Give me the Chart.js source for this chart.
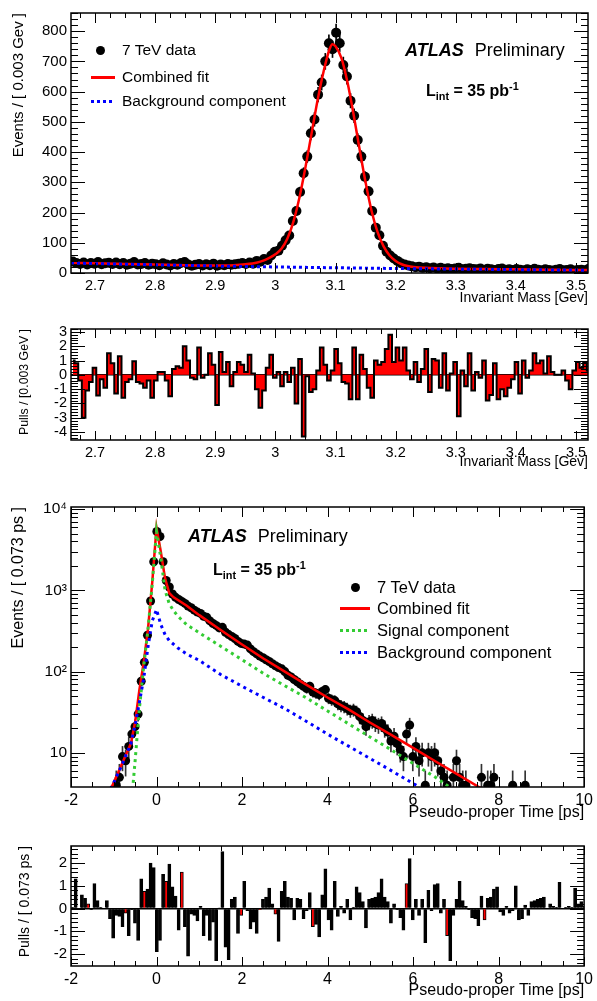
<!DOCTYPE html>
<html>
<head>
<meta charset="utf-8">
<title>ATLAS J/psi mass and pseudo-proper time fits</title>
<script src="https://cdn.jsdelivr.net/npm/chart.js@4.4.1/dist/chart.umd.min.js"></script>
<style>
  body { margin: 0; width: 597px; height: 1001px; position: relative; background: #fff; overflow: hidden;
         font-family: 'Liberation Sans', Arial, Helvetica, sans-serif; color: #000; }
  .pane { position: absolute; left: 0; }
  .txt { position: absolute; white-space: nowrap; line-height: 1; transform: translateY(-50%); }
  .dot { position: absolute; width: 9px; height: 9px; border-radius: 50%; background: #000; }
  .solid { position: absolute; height: 3px; background: #ff0000; }
  .dash { position: absolute; height: 3px; }
  .blue { background: repeating-linear-gradient(90deg, #0000ff 0 3px, transparent 3px 6px); }
  .green { background: repeating-linear-gradient(90deg, #33cc33 0 3px, transparent 3px 6px); }
  sub, sup { font-size: 0.68em; line-height: 0; }
  .atlas { font-weight: bold; font-style: italic; margin-right: 6px; }
</style>
</head>
<body>
<div class="pane" style="top:0"><canvas id="massChart" width="597" height="310"></canvas></div>
<div class="pane" style="top:310px"><canvas id="massPullChart" width="597" height="165"></canvas></div>
<div class="pane" style="top:490px"><canvas id="timeChart" width="597" height="334"></canvas></div>
<div class="pane" style="top:830px"><canvas id="timePullChart" width="597" height="171"></canvas></div>

<!-- top panel legend and labels -->
<div class="dot" style="left:95.5px;top:45.5px"></div>
<div class="txt" style="left:122px;top:50px;font-size:15.5px">7 TeV data</div>
<div class="solid" style="left:91px;top:75.5px;width:24px"></div>
<div class="txt" style="left:122px;top:77px;font-size:15.5px">Combined fit</div>
<div class="dash blue" style="left:91px;top:99.5px;width:24px"></div>
<div class="txt" style="left:122px;top:101px;font-size:15.5px">Background component</div>
<div class="txt" style="left:405px;top:50px;font-size:18px"><span class="atlas">ATLAS</span> Preliminary</div>
<div class="txt" style="left:426px;top:91px;font-size:16px;font-weight:bold">L<sub>int</sub> = 35 pb<sup>-1</sup></div>

<!-- lifetime panel legend and labels -->
<div class="txt" style="left:188px;top:536px;font-size:18px"><span class="atlas">ATLAS</span> Preliminary</div>
<div class="txt" style="left:213px;top:570px;font-size:16px;font-weight:bold">L<sub>int</sub> = 35 pb<sup>-1</sup></div>
<div class="dot" style="left:350.5px;top:582.5px"></div>
<div class="txt" style="left:377px;top:587px;font-size:16.5px">7 TeV data</div>
<div class="solid" style="left:340px;top:606.5px;width:30px"></div>
<div class="txt" style="left:377px;top:608px;font-size:16.5px">Combined fit</div>
<div class="dash green" style="left:340px;top:628.5px;width:30px"></div>
<div class="txt" style="left:377px;top:630px;font-size:16.5px">Signal component</div>
<div class="dash blue" style="left:340px;top:650.5px;width:30px"></div>
<div class="txt" style="left:377px;top:652px;font-size:16.5px">Background component</div>

<script>
// ---------- invariant mass ----------
const massBinStart = 2.663;
const massBinWidth = 0.006;
const massCounts = [
  38, 33, 30, 35, 28, 33, 31, 36, 29, 32, 34,
  30, 35, 29, 33, 27, 31, 36, 28, 30, 33,
  27, 31, 29, 26, 32, 28, 25, 30, 27, 33,
  36, 28, 24, 27, 30, 25, 29, 26, 31, 24,
  28, 26, 30, 27, 29, 31, 33,
  30, 35, 31, 40, 37, 46, 43, 58,
  70, 74, 90, 108, 124, 172, 205, 268, 330, 385, 462, 508, 590, 630, 700, 760, 740,
  795, 760, 688, 650, 570, 520, 440, 385, 318, 270, 205, 150, 125, 90, 70, 58, 48, 40, 32, 28, 25, 22,
  19, 21, 17, 19, 16, 18, 15, 17, 14, 16, 13, 15, 17, 12, 14, 16, 13, 12, 15, 11,
  14, 12, 10, 13, 15, 11, 12, 10, 13, 11, 9, 12, 10, 14, 11, 9, 12, 10, 8, 11,
  13, 9, 10, 12, 8, 10, 11, 9, 14
];
const massFitX = [2.66, 2.70, 2.75, 2.80, 2.85, 2.90, 2.93, 2.95, 2.97, 2.98, 2.99, 3.00, 3.01, 3.02, 3.03,
  3.04, 3.05, 3.06, 3.07, 3.08, 3.09, 3.095, 3.10, 3.11, 3.12, 3.13, 3.14, 3.15, 3.16, 3.17, 3.18, 3.19,
  3.20, 3.21, 3.22, 3.23, 3.25, 3.30, 3.35, 3.40, 3.45, 3.50, 3.52];
const massFitY = [34, 32, 30, 28, 26, 25, 26, 29, 35, 41, 50, 62, 80, 114, 170,
  250, 350, 460, 570, 665, 740, 757, 750, 710, 630, 525, 410, 300, 205, 135, 88, 58,
  40, 29, 23, 20, 17, 14, 13, 12, 11, 10, 10];
const massBkgX = [2.66, 2.70, 2.80, 2.90, 3.00, 3.10, 3.20, 3.30, 3.40, 3.50, 3.52];
const massBkgY = [33, 31, 27, 23, 20, 17.3, 14.9, 12.9, 11.1, 9.6, 9.3];
const massPulls = [
  1.0, 0.8, -0.4, -3.0, -1.1, -0.5, 0.5, -1.45, -0.3, -0.9,
  1.5, 0.8, -1.3, 1.3, -1.6, -0.5, -0.3, 0.95, -0.5, -0.6,
  -0.9, -0.4, -1.6, -0.4, 0.2, 0.2, -0.4, -1.5, 0.4, 0.6,
  0.5, 2.0, 1.0, -0.2, -0.3, 1.9, -0.2, 0.0, 1.5, 0.7,
  -2.1, 1.6, 0.2, 0.9, -0.8, 0.2, 0.9, 0.7, 0.2, 1.4,
  0.1, -1.0, -2.3, -1.1, 0.5, 1.4, -0.2, 0.2, -0.8, 0.2,
  -0.5, 0.5, -2.0, 1.1, -4.3, -0.1, -1.2, -1.0, 0.3, 1.9,
  0.7, -0.4, 0.3, 1.8, 0.8, -0.5, -0.6, -1.7, 1.9, -1.7,
  1.4, 0.4, -0.9, -1.6, 1.0, 0.7, 0.9, 1.8, 2.8, 0.9,
  1.9, 1.0, 1.9, 0.3, -0.3, 0.9, -0.5, 0.4, 1.8, -1.2,
  1.1, 1.0, -0.9, 1.5, -1.1, 0.1, 0.9, -2.9, 0.3, -0.8,
  1.5, -1.1, 0.2, -0.2, 1.0, -1.8, -1.4, 0.8, -1.7, -1.0,
  -1.5, -0.9, -0.3, 0.9, -1.3, 1.0, -0.2, 0.3, 1.5, 0.8,
  1.0, 0.1, 1.3, 0.2, 0.0, 0.0, 0.3, -0.4, -1.0, 0.3,
  0.9, 0.5, 0.9, 0.3
];

// ---------- pseudo-proper time ----------
const timeCountStart = -0.9415;
const timeBinWidth = 0.073;
const timeCounts = [
  4, 5, 9, 8, 12, 17, 21, 30, 76, 130, 280, 740, 2250, 5300, 4600, 2250, 1320, 1100, 900, 820,
  770, 730, 690, 640, 610, 570, 540, 520, 480, 465, 420, 390, 370, 345, 350, 305, 285, 270, 255, 235,
  222, 218, 212, 190, 176, 165, 155, 148, 140, 133, 125, 118, 112, 108, 100, 90, 86, 80, 75, 70,
  66, 62, 66, 56, 54, 52, 57, 60, 47, 45, 44, 40, 38, 37, 35, 33, 34, 32, 28, 25,
  21, 24, 25, 23, 22, 23, 20, 18, 14, 16, 13, 11, 9, 17, 22, 9, 12, 8, 10, 4,
  10, 9, 10, 8, 6, 5, 4, null, 5, 8, 5, 4, 4, null, null, null, null, 5, null, 4,
  4, 5, null, null, null, null, null, 4, null, null, null, 4
];
const timeFitX = [-1.1, -1.0, -0.8, -0.6, -0.5, -0.4, -0.3, -0.2, -0.1, 0.0, 0.1, 0.2, 0.3, 0.4, 0.5,
  0.7, 1.0, 1.5, 2.0, 2.5, 3.0, 3.5, 4.0, 4.5, 5.0, 5.5, 6.0, 6.5, 7.0, 7.5, 7.7];
const timeFitY = [3.3, 4.3, 7.5, 13, 24, 60, 130, 330, 1250, 5900, 3000, 1400, 920, 820, 760,
  650, 495, 325, 215, 145, 100, 69, 48, 34, 23.5, 16.5, 11.5, 8.0, 5.6, 3.9, 3.4];
const timeSigX = [-0.56, -0.5, -0.45, -0.4, -0.3, -0.2, -0.1, 0.0, 0.1, 0.2, 0.3, 0.4, 0.5, 0.7, 1.0,
  1.5, 2.0, 2.5, 3.0, 3.5, 4.0, 4.5, 5.0, 5.5, 6.0, 6.5, 6.85];
const timeSigY = [3.5, 8, 17, 35, 115, 330, 1200, 5300, 2500, 1000, 680, 560, 480, 380, 300,
  205, 140, 95, 67, 47.6, 32.8, 22.6, 15.6, 10.8, 7.4, 5.1, 3.8];
const timeBkgX = [-1.08, -1.0, -0.8, -0.6, -0.5, -0.4, -0.3, -0.2, -0.1, 0.0, 0.1, 0.2, 0.3, 0.5, 0.7,
  1.0, 1.5, 2.0, 2.5, 3.0, 3.5, 4.0, 4.5, 5.0, 5.5, 6.0, 6.15];
const timeBkgY = [3.6, 4.3, 7.3, 13, 22, 42, 82, 200, 420, 580, 380, 285, 240, 195, 165,
  137, 92, 66, 48, 35, 24.5, 17, 12, 8.5, 6.0, 4.2, 3.8];
const timePullStart = -1.9635;
const timePulls = [
  0.05, 1.3, 0.0, 0.6, 0.45, 0.2, -0.05, 1.1, 0.35, 0.05,
  0.0, 0.35, -0.45, -1.3, -0.3, -0.35, -0.8, -0.2, -1.2, -0.05,
  -0.65, -1.4, 1.3, 0.75, 0.85, 2.0, 1.8, -1.9, -1.4, 1.5,
  1.2, 1.95, 0.95, 0.55, -0.95, 1.6, -0.8, -2.1, -0.25, -0.3,
  -0.55, 0.1, -1.2, -0.3, -1.4, -0.6, -2.3, 0.02, 2.5, -1.7,
  -2.25, 0.4, 0.5, -1.1, -0.3, 1.2, -0.1, -0.9, -0.6, -1.1,
  -0.05, 0.4, 0.5, 0.9, 0.2, -0.25, -1.45, 0.75, 1.2, 0.5,
  0.45, -0.5, 0.45, 0.4, -0.45, -0.1, 0.7, -0.8, -0.7, -1.25,
  0.6, 1.75, -0.5, -0.95, 1.2, -0.35, 0.1, -0.2, 0.4, -0.5,
  0.05, 0.95, 0.7, 0.3, -0.85, 0.4, 0.45, 0.5, 0.7, 1.3,
  0.5, 0.3, -0.65, 0.2, -0.05, -0.4, -0.95, 1.1, 2.2, -0.5,
  0.4, -0.3, 0.4, -1.5, 0.8, -0.1, 1.05, 1.1, -0.2, 0.4,
  -1.2, -2.3, -0.3, 0.4, 1.2, 0.35, 0.1, -0.05, -0.4, -0.45,
  -0.75, 0.55, -0.5, 0.45, 0.5, 0.85, 0.95, -0.15, -0.3, 0.1,
  -0.2, -0.1, 1.0, -0.5, -0.45, 0.15, -0.3, 0.3, 0.35, 0.4,
  0.45, 0.5, 0.0, 0.2, 0.1, 0.05, 1.15, 0.0, 0.05, 0.1,
  0.05, 0.9, 0.2, 0.3, 0.1
];
const timePullRedBins = [5, 17, 23, 30, 35, 54, 60, 65, 77, 107, 120, 132];

Chart.defaults.font.family = "'Liberation Sans', Arial, Helvetica, sans-serif";
Chart.defaults.color = '#000';

const binned = (start, w, vals) => vals.map((v, i) => ({ x: start + i * w, y: v }));
const xy = (xs, ys) => xs.map((x, i) => ({ x, y: ys[i] }));
// Poisson error bars drawn as thin floating bars
const errBars = (start, w, vals) => vals
  .map((v, i) => v == null ? null : { x: start + i * w, y: [v - Math.sqrt(v), v + Math.sqrt(v)] })
  .filter(Boolean);

function tickMarks(scale, sub) {
  const major = scale.ticks.map(t => t.value);
  if (scale.type === 'logarithmic') {
    return major.filter(v => v >= scale.min && v <= scale.max).map(v => {
      const e = Math.floor(Math.log10(v) + 1e-9);
      const s = v / Math.pow(10, e);
      return { v, major: Math.abs(s - 1) < 1e-6, ok: Math.abs(s - Math.round(s)) < 1e-6 };
    }).filter(t => t.ok);
  }
  const step = (major[1] - major[0]) / sub;
  const out = [];
  let k = Math.ceil((scale.min - major[0]) / step - 1e-9);
  let v = major[0] + k * step;
  while (v <= scale.max + 1e-9) {
    out.push({ v, major: ((k % sub) + sub) % sub === 0 });
    k++;
    v = major[0] + k * step;
  }
  return out;
}

// ROOT style frame with inward ticks on all four sides
const rootFrame = {
  id: 'rootFrame',
  afterDatasetsDraw(chart, args, o) {
    const { ctx, chartArea: a } = chart;
    const xs = chart.scales.x, ys = chart.scales.y;
    ctx.save();
    ctx.strokeStyle = '#000';
    ctx.lineWidth = 1;
    ctx.beginPath();
    tickMarks(xs, o.xSub).forEach(t => {
      const px = Math.round(xs.getPixelForValue(t.v)) + 0.5;
      const len = t.major ? o.xMajor : o.xMinor;
      ctx.moveTo(px, a.bottom); ctx.lineTo(px, a.bottom - len);
      ctx.moveTo(px, a.top); ctx.lineTo(px, a.top + len);
    });
    tickMarks(ys, o.ySub).forEach(t => {
      const py = Math.round(ys.getPixelForValue(t.v)) + 0.5;
      const len = t.major ? o.yMajor : o.yMinor;
      ctx.moveTo(a.left, py); ctx.lineTo(a.left + len, py);
      ctx.moveTo(a.right, py); ctx.lineTo(a.right - len, py);
    });
    ctx.stroke();
    ctx.lineWidth = 1.5;
    ctx.strokeRect(a.left, a.top, a.right - a.left, a.bottom - a.top);
    ctx.restore();
  }
};

const plainNumber = v => String(+Number(v).toFixed(3));

function xAxis(min, max, step, title, titleSize, boxH, size, titlePad) {
  return {
    type: 'linear', min, max, offset: false,
    ticks: { stepSize: step, includeBounds: false, autoSkip: false, maxRotation: 0, padding: 4,
             font: { size }, callback: plainNumber },
    grid: { display: false, drawTicks: false }, border: { display: false },
    title: { display: true, text: title, align: 'end', font: { size: titleSize }, padding: { top: 0, bottom: titlePad } },
    afterFit: s => { s.height = boxH; }
  };
}

function yAxis(extra, title, titleSize, titlePad, zeroLine) {
  return Object.assign({
    grid: zeroLine
      ? { drawTicks: false, lineWidth: 1.5, color: c => (c.tick && c.tick.value === 0 ? '#000' : 'rgba(0,0,0,0)') }
      : { display: false, drawTicks: false },
    border: { display: false },
    title: { display: true, text: title, align: 'end', font: { size: titleSize }, padding: { top: titlePad, bottom: 0 } },
    afterFit: s => { s.width = 71; }
  }, extra);
}

const linTicks = (step, size) => ({ stepSize: step, includeBounds: false, autoSkip: false, padding: 4,
  font: { size }, callback: plainNumber });

function frameChart(id, datasets, padTop, x, y, ticks) {
  return new Chart(document.getElementById(id), {
    type: 'line',
    data: { datasets },
    options: {
      responsive: false,
      animation: false,
      events: [],
      layout: { padding: { top: padTop, right: 9, left: 0, bottom: 0 } },
      plugins: { legend: { display: false }, tooltip: { enabled: false }, rootFrame: ticks },
      scales: { x, y }
    },
    plugins: [rootFrame]
  });
}

// ---- panel 1: invariant mass ----
frameChart('massChart', [
  { type: 'line', data: xy(massBkgX, massBkgY), borderColor: '#0000ff', borderWidth: 3, borderDash: [3, 3],
    pointRadius: 0, tension: 0, order: 0 },
  { type: 'line', data: xy(massFitX, massFitY), borderColor: '#ff0000', borderWidth: 2.5,
    pointRadius: 0, cubicInterpolationMode: 'monotone', order: 1 },
  { type: 'line', data: binned(massBinStart, massBinWidth, massCounts), showLine: false,
    pointRadius: 5, pointBackgroundColor: '#000', pointBorderWidth: 0, order: 2 },
  { type: 'bar', data: errBars(massBinStart, massBinWidth, massCounts), backgroundColor: '#000',
    barThickness: 1, grouped: false, order: 3 }
], 13,
  xAxis(2.66, 3.52, 0.1, 'Invariant Mass [Gev]', 14, 37, 14.5, 3.6),
  yAxis({ min: 0, max: 860, ticks: linTicks(100, 15) }, 'Events / [ 0.003 Gev ]', 15, 9.5, false),
  { xSub: 4, xMajor: 10, xMinor: 5, ySub: 5, yMajor: 14, yMinor: 7 });

// ---- panel 2: mass pulls ----
frameChart('massPullChart', [
  { type: 'line', data: binned(massBinStart, massBinWidth, massPulls), stepped: 'middle', fill: 'origin',
    backgroundColor: '#ff0000', borderColor: '#000', borderWidth: 2, pointRadius: 0 }
], 19,
  xAxis(2.66, 3.52, 0.1, 'Invariant Mass [Gev]', 14, 35, 14.5, 4.6),
  yAxis({ min: -4.55, max: 3.2, ticks: linTicks(1, 14.5) }, 'Pulls / [0.003 GeV ]', 12.3, 17.6, true),
  { xSub: 4, xMajor: 9, xMinor: 5, ySub: 5, yMajor: 14, yMinor: 7 });

// ---- panel 3: pseudo-proper time (log) ----
const supDigits = { 2: '\u00b2', 3: '\u00b3', 4: '\u2074' };
frameChart('timeChart', [
  { type: 'line', data: xy(timeBkgX, timeBkgY), borderColor: '#0000ff', borderWidth: 3, borderDash: [3, 4],
    pointRadius: 0, tension: 0, order: 0 },
  { type: 'line', data: xy(timeSigX, timeSigY), borderColor: '#33cc33', borderWidth: 3, borderDash: [3, 4],
    pointRadius: 0, tension: 0, order: 1 },
  { type: 'line', data: xy(timeFitX, timeFitY), borderColor: '#ff0000', borderWidth: 2.5,
    pointRadius: 0, tension: 0, order: 2 },
  { type: 'line', data: binned(timeCountStart, timeBinWidth, timeCounts), showLine: false,
    pointRadius: 4.5, pointBackgroundColor: '#000', pointBorderWidth: 0, order: 3 },
  { type: 'bar', data: errBars(timeCountStart, timeBinWidth, timeCounts), backgroundColor: '#333',
    barThickness: 1, grouped: false, order: 4 }
], 17,
  xAxis(-2, 10, 2, 'Pseudo-proper Time [ps]', 16, 37, 16, 1.4),
  yAxis({
    type: 'logarithmic', min: 3.8, max: 10600,
    ticks: {
      autoSkip: false, padding: 4, font: { size: 15.5 },
      callback: v => {
        const e = Math.log10(v);
        if (Math.abs(e - Math.round(e)) > 1e-9) return '';
        const n = Math.round(e);
        return n === 1 ? '10' : '10' + (supDigits[n] || '');
      }
    }
  }, 'Events / [ 0.073 ps ]', 16, 9, false),
  { xSub: 4, xMajor: 10, xMinor: 5, ySub: 1, yMajor: 14, yMinor: 7 });

// ---- panel 4: lifetime pulls ----
frameChart('timePullChart', [
  { type: 'bar', data: binned(timePullStart, timeBinWidth, timePulls),
    backgroundColor: c => (timePullRedBins.includes(c.dataIndex) ? '#ff0000' : '#000'),
    borderColor: '#000', borderWidth: 1, barPercentage: 1, categoryPercentage: 1, grouped: false }
], 16,
  xAxis(-2, 10, 2, 'Pseudo-proper Time [ps]', 16, 35, 16, 0.4),
  yAxis({ min: -2.53, max: 2.75, ticks: linTicks(1, 15) }, 'Pulls / [ 0.073 ps ]', 14, 17, true),
  { xSub: 4, xMajor: 9, xMinor: 5, ySub: 5, yMajor: 14, yMinor: 7 });
</script>
</body>
</html>
